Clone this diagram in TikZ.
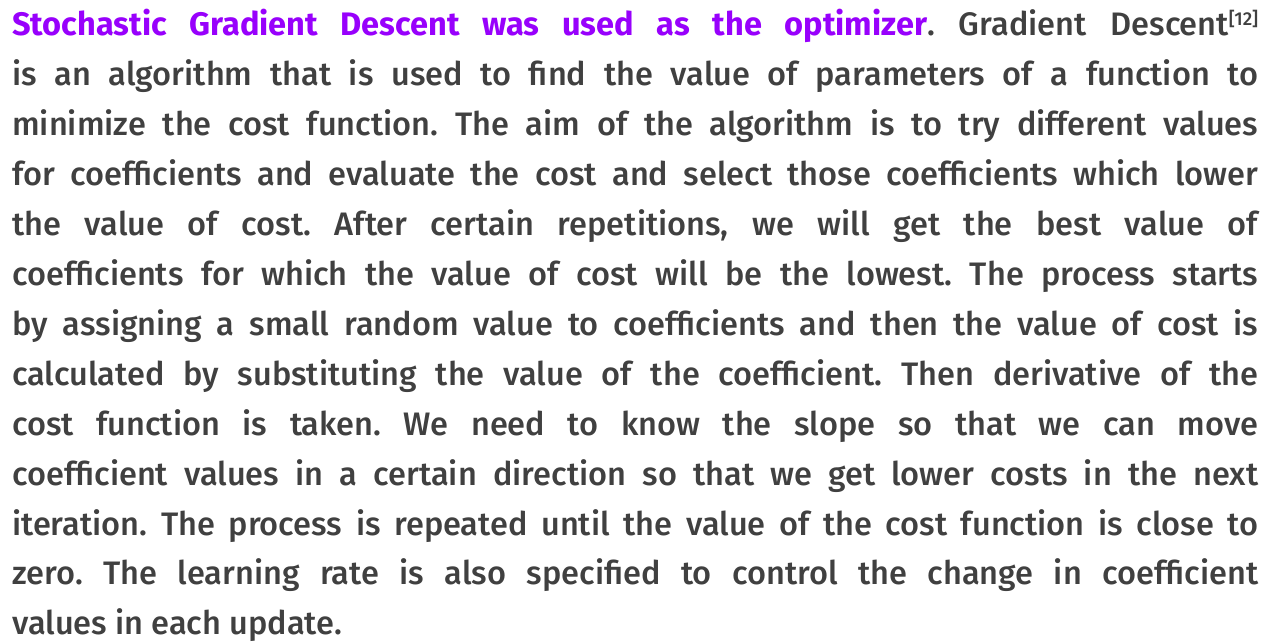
\documentclass[tikz,border=0pt]{standalone}
\usepackage{fontspec}
\setmainfont{Fira Sans}[UprightFont=* Medium, BoldFont=* Bold]
\definecolor{bodygray}{RGB}{64,64,64}
\definecolor{leadviolet}{RGB}{152,0,252}
\newlength{\linew}
\setlength{\linew}{934.5pt}
\newcommand{\jline}[1]{\makebox[\linew][s]{#1}}
\newcommand{\refmark}[1]{\raisebox{8pt}{\fontsize{14pt}{14pt}\selectfont #1}}
\frenchspacing
\begin{document}
\begin{tikzpicture}[x=0.75pt,y=-0.75pt,
  txt/.style={anchor=base west,inner sep=0pt,text=bodygray,
    font=\fontsize{24.4pt}{36pt}\selectfont\frenchspacing}]
\useasboundingbox[fill=white] (0,0) rectangle (1271,642);
\foreach \i in {1,...,13}{\coordinate (b\i) at (12,{36+(\i-1)*49.9});}
\node[txt] (l1) at (b1) {\jline{{\color{leadviolet}\bfseries Stochastic Gradient Descent was used as the optimizer}. Gradient Descent\refmark{[12]}}};
\node[txt] (l2) at (b2) {\jline{is an algorithm that is used to find the value of parameters of a function to}};
\node[txt] (l3) at (b3) {\jline{minimize the cost function. The aim of the algorithm is to try different values}};
\node[txt] (l4) at (b4) {\jline{for coefficients and evaluate the cost and select those coefficients which lower}};
\node[txt] (l5) at (b5) {\jline{the value of cost. After certain repetitions, we will get the best value of}};
\node[txt] (l6) at (b6) {\jline{coefficients for which the value of cost will be the lowest. The process starts}};
\node[txt] (l7) at (b7) {\jline{by assigning a small random value to coefficients and then the value of cost is}};
\node[txt] (l8) at (b8) {\jline{calculated by substituting the value of the coefficient. Then derivative of the}};
\node[txt] (l9) at (b9) {\jline{cost function is taken. We need to know the slope so that we can move}};
\node[txt] (l10) at (b10) {\jline{coefficient values in a certain direction so that we get lower costs in the next}};
\node[txt] (l11) at (b11) {\jline{iteration. The process is repeated until the value of the cost function is close to}};
\node[txt] (l12) at (b12) {\jline{zero. The learning rate is also specified to control the change in coefficient}};
\node[txt] (l13) at (b13) {values in each update.};
\end{tikzpicture}
\end{document}
